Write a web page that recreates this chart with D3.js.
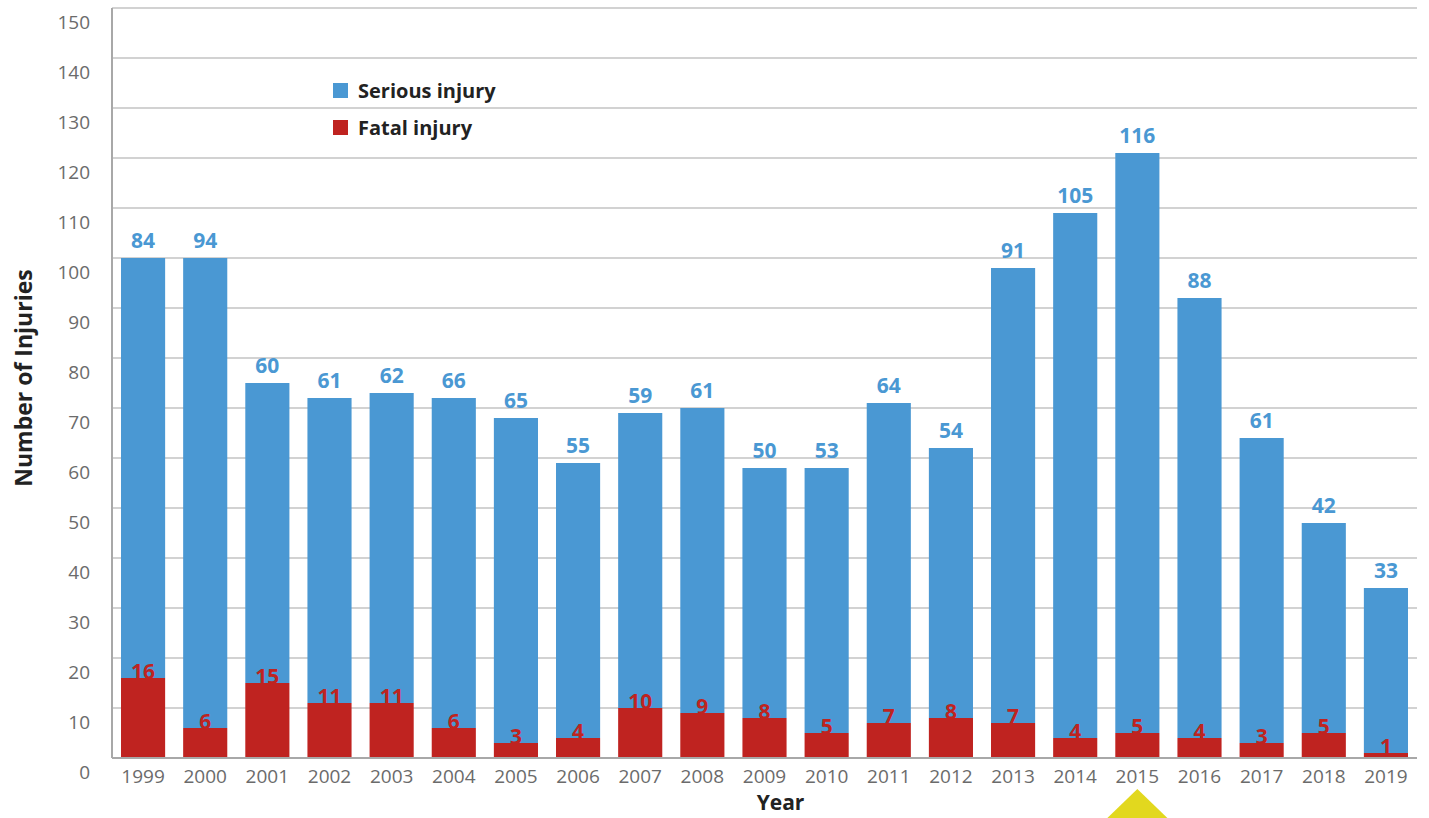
<!DOCTYPE html>
<html>
<head>
<meta charset="utf-8">
<script src="https://cdn.jsdelivr.net/npm/d3@7"></script>
<style>
  body { margin: 0; background: #fff; }
  text { font-family: "Open Sans", "Noto Sans", sans-serif; }
</style>
</head>
<body>
<div id="chart"></div>
<script>
// data
let years = ['1999', '2000', '2001', '2002', '2003', '2004', '2005', '2006', '2007', '2008', '2009',
    '2010', '2011', '2012', '2013', '2014', '2015', '2016', '2017', '2018', '2019'];
let serious = [84, 94, 60, 61, 62, 66, 65, 55, 59, 61, 50, 53, 64, 54, 91, 105, 116, 88, 61, 42, 33];
let fatal = [16, 6, 15, 11, 11, 6, 3, 4, 10, 9, 8, 5, 7, 8, 7, 4, 5, 4, 3, 5, 1];
let yTicks = [0, 10, 20, 30, 40, 50, 60, 70, 80, 90, 100, 110, 120, 130, 140, 150];

let svgWidth = 1429;
let svgHeight = 818;
let margin = { top: 8, right: 12, bottom: 60, left: 112 };
let width = svgWidth - margin.left - margin.right;
let height = svgHeight - margin.top - margin.bottom;

let blue = '#4a98d3';
let red = '#bf2320';

let svg = d3.select('#chart').append('svg')
    .attr('width', svgWidth)
    .attr('height', svgHeight);

let g = svg.append('g').attr('transform', `translate(${margin.left}, ${margin.top})`);

let x = d3.scaleBand().domain(years).range([0, width]).paddingInner(0.29).paddingOuter(0.145);
let y = d3.scaleLinear().domain([0, 150]).range([height, 0]);

// gridlines
g.selectAll('.grid')
    .data(yTicks.filter(d => d > 0))
    .enter()
    .append('line')
    .attr('x1', 0)
    .attr('x2', width)
    .attr('y1', d => y(d))
    .attr('y2', d => y(d))
    .attr('stroke', '#d2d2d2')
    .attr('stroke-width', 2);

// y tick labels (sit a bit below their gridline, like the original)
g.selectAll('.ytick')
    .data(yTicks)
    .enter()
    .append('text')
    .attr('x', -22)
    .attr('y', d => y(d) + 21)
    .attr('text-anchor', 'end')
    .attr('font-size', '19px')
    .attr('fill', '#6b6b6b')
    .text(d => d);

let rows = years.map((yr, i) => ({ year: yr, serious: serious[i], fatal: fatal[i] }));

// fatal (bottom)
g.selectAll('.fatal')
    .data(rows)
    .enter()
    .append('rect')
    .attr('x', d => x(d.year))
    .attr('width', x.bandwidth())
    .attr('y', d => y(d.fatal))
    .attr('height', d => y(0) - y(d.fatal))
    .attr('fill', red);

// serious (stacked on top)
g.selectAll('.serious')
    .data(rows)
    .enter()
    .append('rect')
    .attr('x', d => x(d.year))
    .attr('width', x.bandwidth())
    .attr('y', d => y(d.fatal + d.serious))
    .attr('height', d => y(d.fatal) - y(d.fatal + d.serious))
    .attr('fill', blue);

// value labels
g.selectAll('.slabel')
    .data(rows)
    .enter()
    .append('text')
    .attr('x', d => x(d.year) + x.bandwidth() / 2)
    .attr('y', d => y(d.fatal + d.serious) - 10)
    .attr('text-anchor', 'middle')
    .attr('font-size', '21px')
    .attr('font-weight', 'bold')
    .attr('fill', blue)
    .text(d => d.serious);

g.selectAll('.flabel')
    .data(rows)
    .enter()
    .append('text')
    .attr('x', d => x(d.year) + x.bandwidth() / 2)
    .attr('y', d => y(d.fatal) + 1)
    .attr('text-anchor', 'middle')
    .attr('font-size', '21px')
    .attr('font-weight', 'bold')
    .attr('fill', red)
    .text(d => d.fatal);

// axis lines
g.append('line')
    .attr('x1', 0).attr('x2', 0)
    .attr('y1', 0).attr('y2', height)
    .attr('stroke', '#a8a8a8')
    .attr('stroke-width', 2);
g.append('line')
    .attr('x1', 0).attr('x2', width)
    .attr('y1', height).attr('y2', height)
    .attr('stroke', '#a8a8a8')
    .attr('stroke-width', 2);

// x tick labels
g.selectAll('.xtick')
    .data(years)
    .enter()
    .append('text')
    .attr('x', d => x(d) + x.bandwidth() / 2)
    .attr('y', height + 25)
    .attr('text-anchor', 'middle')
    .attr('font-size', '19px')
    .attr('fill', '#6b6b6b')
    .text(d => d);

// axis titles
g.append('text')
    .attr('x', width / 2 + 16)
    .attr('y', height + 52)
    .attr('text-anchor', 'middle')
    .attr('font-size', '21px')
    .attr('font-weight', 'bold')
    .attr('fill', '#222')
    .text('Year');

g.append('text')
    .attr('transform', `translate(${-80}, ${y(75) - 5}) rotate(-90)`)
    .attr('text-anchor', 'middle')
    .attr('font-size', '23px')
    .attr('font-weight', 'bold')
    .attr('fill', '#222')
    .text('Number of Injuries');

// legend
let legendItems = [
    { label: 'Serious injury', color: blue },
    { label: 'Fatal injury', color: red }
];
let legend = g.selectAll('.legend')
    .data(legendItems)
    .enter()
    .append('g')
    .attr('transform', (d, i) => `translate(221, ${75 + i * 37})`);
legend.append('rect')
    .attr('width', 15)
    .attr('height', 15)
    .attr('fill', d => d.color);
legend.append('text')
    .attr('x', 25)
    .attr('y', 15)
    .attr('font-size', '20px')
    .attr('font-weight', 'bold')
    .attr('fill', '#222')
    .text(d => d.label);

// yellow marker under 2015
let mx = margin.left + x('2015') + x.bandwidth() / 2;
svg.append('path')
    .attr('d', `M${mx},789 L${mx + 30},818 L${mx - 30},818 Z`)
    .attr('fill', '#e2d81e');
</script>
</body>
</html>
